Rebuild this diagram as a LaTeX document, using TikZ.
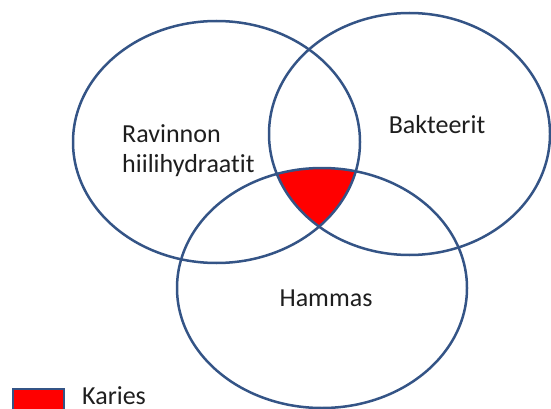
\documentclass[tikz,border=0pt]{standalone}
\usepackage{fontspec}
\setmainfont{Carlito}[RawFeature={-liga}]
\usetikzlibrary{positioning}
\definecolor{vennblue}{RGB}{52,84,134}
\definecolor{kariesred}{RGB}{255,0,0}
\definecolor{labelgray}{RGB}{30,30,30}

\begin{document}
\begin{tikzpicture}[
  x=1pt, y=-1pt, font=\fontsize{26}{30}\selectfont,
  set/.style={draw=vennblue, line width=2.5pt},
  lbl/.style={text=labelgray, inner sep=0pt}]
\useasboundingbox (0,0) rectangle (551,409);
% common part of all three sets
\begin{scope}
\clip (216.5,142) ellipse [x radius=143.5, y radius=121];
\clip (409.5,134) ellipse [x radius=140.5, y radius=121];
\fill[kariesred] (322,288) ellipse [x radius=145, y radius=120];
\end{scope}
% the three sets
\draw[set] (216.5,142) ellipse [x radius=143.5, y radius=121];
\draw[set] (409.5,134) ellipse [x radius=140.5, y radius=121];
\draw[set] (322,288) ellipse [x radius=145, y radius=120];
% labels
\node[lbl, anchor=base west, align=left] (food) at (122,172)
      {Ravinnon\\hiilihydraatit};
\node[lbl, anchor=base] (bact) at (437,133) {Bakteerit};
\node[lbl, anchor=base] (tooth) at (326,306) {Hammas};
% legend
\node[draw=vennblue, fill=kariesred, line width=2pt, inner sep=0pt,
      minimum width=51pt, minimum height=26pt, anchor=north west]
      (key) at (12,388) {};
\node[lbl, anchor=base west] (keytext) at (82,404) {Karies};
\end{tikzpicture}
\end{document}
